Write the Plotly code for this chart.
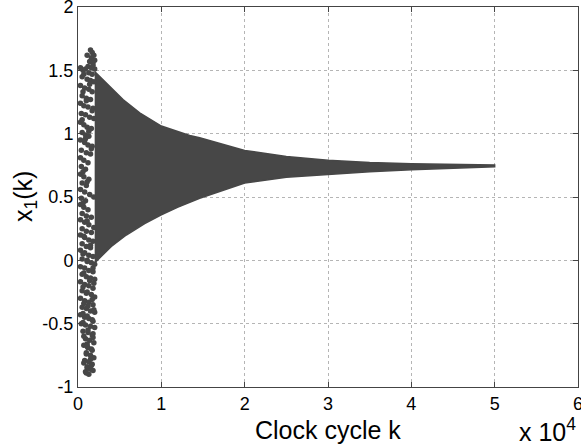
import plotly.graph_objects as go

# Envelope of the converging band
upper_k = [2000, 3400, 5400, 7400, 10000, 13400, 14600, 20000, 25000, 30000, 35000, 40000, 45000, 50000]
upper_v = [1.49, 1.40, 1.27, 1.165, 1.06, 0.985, 0.967, 0.868, 0.82, 0.79, 0.772, 0.763, 0.757, 0.752]
lower_k = [2000, 2200, 4000, 5800, 8000, 10000, 12000, 14600, 20000, 25000, 30000, 35000, 40000, 45000, 50000]
lower_v = [-0.02, 0.0, 0.11, 0.20, 0.29, 0.36, 0.42, 0.49, 0.61, 0.655, 0.68, 0.70, 0.716, 0.728, 0.738]

# Chaotic transient points (k, x1)
chaos_k = [1500, 1700, 1900, 1600, 2000, 1400, 1800, 1200, 1600, 2000, 300, 600, 900, 1300, 1700, 500, 1100, 1500, 1900,
           300, 800, 1300, 1700, 500, 1000, 1500, 300, 700, 1200, 1800, 400, 900, 1400, 1900,
           300, 700, 1100, 1600, 500, 900, 1300, 300, 800, 1200, 1700, 400, 1000, 1500, 300, 700, 1200,
           400, 900, 300, 700, 1300, 500, 1000, 300, 800, 1400, 400, 900, 300, 700, 1200,
           500, 1000, 1600, 300, 800, 1300, 500, 1000, 1600, 300, 800, 1300, 1800, 500, 1000, 1500, 300, 800, 1300, 1800, 500, 1100, 1600, 2000,
           300, 800, 1300, 1800, 500, 1000, 1500, 2000, 300, 800, 1300, 1800, 500, 1000, 1600, 2000, 300, 800, 1300, 1800, 500, 1000, 1500, 2000, 300, 800, 1300, 1800, 400, 900, 1500, 2000,
           600, 1200, 1700, 900, 1400, 1900, 700, 1200, 1700, 1000, 1500, 1900, 800, 1300, 1700, 1100, 1500, 900, 1300]
chaos_v = [1.66, 1.64, 1.62, 1.60, 1.58, 1.57, 1.56, 1.53, 1.52, 1.51, 1.52, 1.50, 1.51, 1.48, 1.47, 1.45, 1.43, 1.42, 1.41,
           1.38, 1.36, 1.35, 1.33, 1.30, 1.28, 1.27, 1.24, 1.22, 1.21, 1.20, 1.16, 1.15, 1.13, 1.12,
           1.09, 1.07, 1.05, 1.04, 1.01, 0.99, 0.98, 0.95, 0.93, 0.91, 0.90, 0.87, 0.85, 0.84, 0.81, 0.79, 0.77,
           0.74, 0.72, 0.68, 0.66, 0.64, 0.61, 0.59, 0.56, 0.54, 0.52, 0.49, 0.47, 0.44, 0.42, 0.40,
           0.37, 0.35, 0.34, 0.32, 0.30, 0.28, 0.25, 0.23, 0.22, 0.20, 0.18, 0.16, 0.15, 0.13, 0.11, 0.10, 0.08, 0.06, 0.04, 0.03, 0.01, -0.01, -0.02, -0.03,
           -0.05, -0.06, -0.08, -0.09, -0.11, -0.13, -0.14, -0.15, -0.17, -0.19, -0.20, -0.22, -0.24, -0.26, -0.27, -0.29, -0.30, -0.32, -0.33, -0.35, -0.37, -0.38, -0.40, -0.41, -0.43, -0.45, -0.46, -0.48, -0.50, -0.51, -0.52, -0.53,
           -0.56, -0.57, -0.59, -0.62, -0.63, -0.65, -0.67, -0.69, -0.71, -0.74, -0.75, -0.77, -0.79, -0.80, -0.82, -0.85, -0.86, -0.88, -0.90]

# Additional transient points filling the column
chaos2_k = [1100, 1800, 700, 1400, 600, 1000, 1700, 500, 1300, 900, 1600, 600, 1100, 1900, 600, 1100, 1900, 700, 1500,
            600, 1100, 1800, 700, 1400, 1900, 600, 1100, 1700, 700, 1200, 1900, 600, 1100, 1700, 600, 1200, 1800, 700, 1100, 1600,
            1000, 1500, 700, 1100, 1800, 1000, 1600, 1100, 1800]
chaos2_v = [1.62, 1.54, 1.47, 1.39, 1.33, 1.26, 1.18, 1.11, 1.02, 0.96, 0.88, 0.70, 0.62, 0.50, 0.45, 0.31, 0.26, 0.19, 0.12,
            0.05, 0.0, -0.06, -0.10, -0.16, -0.18, -0.21, -0.25, -0.31, -0.34, -0.36, -0.39, -0.42, -0.44, -0.47, -0.49, -0.55, -0.61, -0.60,
            -0.66, -0.70, -0.73, -0.78, -0.81, -0.84, -0.87, -0.89, -0.83, -0.68, -0.58]

x_ticks = [0, 10000, 20000, 30000, 40000, 50000, 60000]
x_tick_text = ["0", "1", "2", "3", "4", "5", "6"]
y_ticks = [-1, -0.5, 0, 0.5, 1, 1.5, 2]
y_tick_text = ["-1", "-0.5", "0", "0.5", "1", "1.5", "2"]

DARK = "#474747"
FONT = "Liberation Sans, Arial, sans-serif"

fig = go.Figure()
fig.add_trace(go.Scatter(
    x=upper_k + lower_k[::-1], y=upper_v + lower_v[::-1],
    fill="toself", fillcolor=DARK, mode="lines",
    line=dict(color=DARK, width=1.5), hoverinfo="skip", showlegend=False))
fig.add_trace(go.Scatter(
    x=chaos_k + chaos2_k, y=chaos_v + chaos2_v, mode="markers",
    marker=dict(color=DARK, size=5.5, symbol="circle", line=dict(width=0)),
    showlegend=False))

axis_common = dict(
    showline=True, linecolor="#444444", linewidth=1, mirror="ticks",
    ticks="inside", ticklen=5, tickcolor="#444444",
    showgrid=True, gridcolor="#b5b5b5", griddash="dot", gridwidth=1,
    zeroline=False, ticklabeloverflow="allow", automargin=False,
    tickfont=dict(family=FONT, size=18, color="black"))

fig.update_xaxes(range=[0, 60000], tickvals=x_ticks, ticktext=x_tick_text, **axis_common)
fig.update_yaxes(range=[-1, 2], tickvals=y_ticks, ticktext=y_tick_text, **axis_common)

fig.update_layout(
    width=581, height=448,
    margin=dict(l=78, r=3, t=7, b=61),
    paper_bgcolor="white", plot_bgcolor="white",
    font=dict(family=FONT, color="black"),
    annotations=[
        dict(text="Clock cycle k", xref="paper", yref="paper", x=0.5, y=-0.113,
             xanchor="center", yanchor="middle", showarrow=False,
             font=dict(family=FONT, size=25, color="black")),
        dict(text="x 10<sup>4</sup>", xref="paper", yref="paper", x=1.0, y=-0.113,
             xanchor="right", yanchor="middle", showarrow=False,
             font=dict(family=FONT, size=25, color="black")),
        dict(text="x<sub>1</sub>(k)", xref="paper", yref="paper", x=-0.106, y=0.5,
             xanchor="center", yanchor="middle", showarrow=False, textangle=-90,
             font=dict(family=FONT, size=25, color="black")),
    ])

fig.write_html("out.html")
